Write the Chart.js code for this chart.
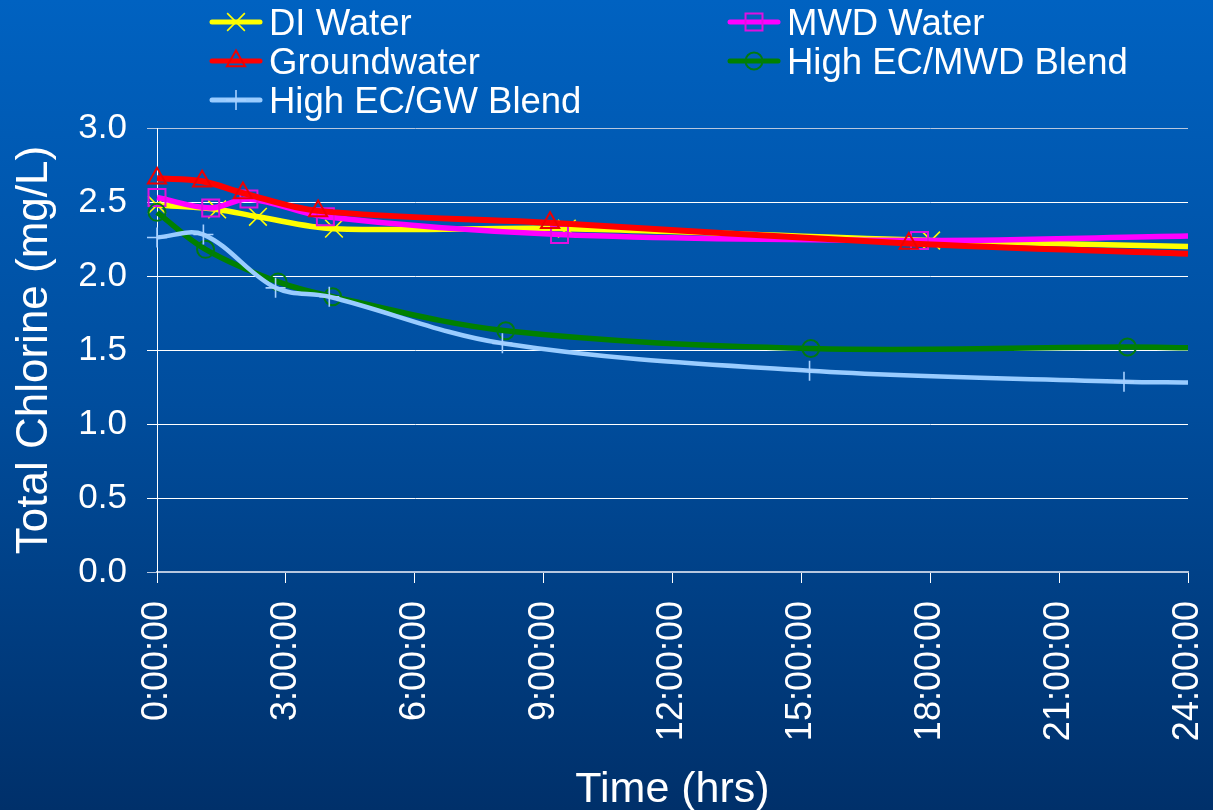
<!DOCTYPE html>
<html>
<head>
<meta charset="utf-8">
<title>Total Chlorine vs Time</title>
<style>
  html, body { margin: 0; padding: 0; background: #00468f; }
  #wrap { width: 1213px; height: 810px; position: relative; }
  canvas { display: block; }
</style>
<script src="https://cdn.jsdelivr.net/npm/chart.js@4.4.1/dist/chart.umd.min.js"></script>
</head>
<body>
<div id="wrap"><canvas id="chlorine" width="1213" height="810"></canvas></div>
<script>
const FONT = '"Liberation Sans", Arial, Helvetica, sans-serif';

// Series names (legend order: row by row, two columns)
const seriesNames = ['DI Water', 'MWD Water', 'Groundwater', 'High EC/MWD Blend', 'High EC/GW Blend'];

// Sampling times (hours) and total chlorine (mg/L) for each water
const diHours     = [0, 1.40, 2.35, 4.12, 9.54, 18.02, 24];
const diValues    = [2.48, 2.45, 2.40, 2.32, 2.32, 2.24, 2.20];

const mwdHours    = [0, 1.25, 2.14, 3.92, 9.37, 17.75, 24];
const mwdValues   = [2.53, 2.46, 2.52, 2.40, 2.28, 2.24, 2.27];

const gwHours     = [0, 1.05, 2.00, 3.75, 9.15, 17.50, 24];
const gwValues    = [2.66, 2.64, 2.56, 2.44, 2.36, 2.22, 2.15];

const ecMwdHours  = [0, 1.13, 2.82, 4.09, 8.12, 15.22, 22.59, 24];
const ecMwdValues = [2.43, 2.18, 1.96, 1.86, 1.63, 1.51, 1.52, 1.515];

const ecGwHours   = [0, 1.08, 2.76, 4.01, 8.04, 15.19, 22.51, 24];
const ecGwValues  = [2.26, 2.28, 1.92, 1.86, 1.545, 1.36, 1.286, 1.28];

// Axis ticks
const hourTicks = [0, 3, 6, 9, 12, 15, 18, 21, 24];
const chlorineTicks = [0, 0.5, 1, 1.5, 2, 2.5, 3];

const toPoints = (xs, ys) => xs.map((x, i) => ({ x: x, y: ys[i] }));

// The end-of-run point carries the curve to 24 h without a marker
const markerUntilEnd = r => c => (c.dataIndex === c.dataset.data.length - 1 ? 0 : r);

function series(label, xs, ys, lineColor, lineWidth, style, markerColor, markerSize, markerWidth, order) {
  return {
    label: label,
    data: toPoints(xs, ys),
    borderColor: lineColor,
    borderWidth: lineWidth,
    backgroundColor: 'rgba(0,0,0,0)',
    pointStyle: style,
    pointBorderColor: markerColor,
    pointBackgroundColor: 'rgba(0,0,0,0)',
    pointBorderWidth: markerWidth,
    pointRadius: markerUntilEnd(markerSize),
    pointHoverRadius: markerUntilEnd(markerSize),
    markerSize: markerSize,
    tension: 0.35,
    fill: false,
    clip: false,
    order: order
  };
}

const datasets = [
  series(seriesNames[0], diHours, diValues, '#ffff00', 5.5, 'crossRot', '#ffff00', 12.5, 1.6, 5),
  series(seriesNames[1], mwdHours, mwdValues, '#ff00ff', 5.5, 'rect', '#e010e0', 12, 2, 4),
  series(seriesNames[2], gwHours, gwValues, '#ff0000', 6, 'triangle', '#ee0000', 10.5, 2, 3),
  series(seriesNames[3], ecMwdHours, ecMwdValues, '#008000', 5.5, 'circle', '#007a10', 8.5, 2, 2),
  series(seriesNames[4], ecGwHours, ecGwValues, '#99ccff', 4.5, 'cross', '#a6d0ff', 10, 1.6, 1)
];

// Blue slide backdrop, lighter at the top
const backdrop = {
  id: 'backdrop',
  beforeDraw(chart) {
    const { ctx, width, height } = chart;
    const g = ctx.createLinearGradient(0, 0, 0, height);
    g.addColorStop(0, '#0062c1');
    g.addColorStop(0.5, '#004d9d');
    g.addColorStop(1, '#00306a');
    ctx.save();
    ctx.fillStyle = g;
    ctx.fillRect(0, 0, width, height);
    ctx.restore();
  }
};

// Two-column legend above the plot
const legendColX = [212, 730];
const legendRowY = [22, 61, 100];
const gridLegend = {
  id: 'gridLegend',
  afterDraw(chart) {
    const ctx = chart.ctx;
    chart.data.datasets.forEach((ds, i) => {
      const x0 = legendColX[i % 2];
      const y = legendRowY[Math.floor(i / 2)];
      ctx.save();
      ctx.strokeStyle = ds.borderColor;
      ctx.lineWidth = 5;
      ctx.lineCap = 'round';
      ctx.beginPath();
      ctx.moveTo(x0, y);
      ctx.lineTo(x0 + 48, y);
      ctx.stroke();
      ctx.strokeStyle = ds.pointBorderColor;
      ctx.fillStyle = 'rgba(0,0,0,0)';
      ctx.lineWidth = ds.pointBorderWidth;
      ctx.lineCap = 'butt';
      Chart.helpers.drawPoint(ctx, {
        pointStyle: ds.pointStyle,
        rotation: 0,
        radius: ds.markerSize,
        borderWidth: ds.pointBorderWidth
      }, x0 + 24, y);
      ctx.fillStyle = '#ffffff';
      ctx.font = '36.5px ' + FONT;
      ctx.textAlign = 'left';
      ctx.textBaseline = 'alphabetic';
      ctx.fillText(ds.label, x0 + 57, y + 13);
      ctx.restore();
    });
  }
};

new Chart(document.getElementById('chlorine'), {
  type: 'line',
  data: { datasets: datasets },
  plugins: [backdrop, gridLegend],
  options: {
    responsive: false,
    animation: false,
    events: [],
    layout: { padding: { top: 128, right: 25, bottom: 0, left: 0 } },
    plugins: {
      legend: { display: false },
      tooltip: { enabled: false }
    },
    scales: {
      x: {
        type: 'linear',
        min: hourTicks[0],
        max: hourTicks[hourTicks.length - 1],
        afterFit(scale) {
          scale.height = 238;
          scale.paddingLeft = 0;
          scale.paddingRight = 0;
        },
        afterBuildTicks(scale) { scale.ticks = hourTicks.map(v => ({ value: v })); },
        border: { display: true, color: '#b7c7df', width: 2 },
        grid: { drawOnChartArea: false, drawTicks: true, tickLength: 11, color: '#ffffff', lineWidth: 1 },
        ticks: {
          autoSkip: false,
          minRotation: 90,
          maxRotation: 90,
          padding: 18,
          color: '#ffffff',
          font: { family: FONT, size: 36 },
          callback: v => v + ':00:00'
        },
        title: {
          display: true,
          text: 'Time (hrs)',
          color: '#ffffff',
          font: { family: FONT, size: 43 },
          padding: { top: 0, bottom: -6 }
        }
      },
      y: {
        min: chlorineTicks[0],
        max: chlorineTicks[chlorineTicks.length - 1],
        afterFit(scale) {
          scale.width = 157;
          scale.paddingTop = 0;
          scale.paddingBottom = 0;
        },
        afterBuildTicks(scale) { scale.ticks = chlorineTicks.map(v => ({ value: v })); },
        border: { display: true, color: '#ffffff', width: 1 },
        grid: {
          drawTicks: true,
          tickLength: 10,
          lineWidth: 1,
          color: c => (c.tick && (c.tick.value === 0 || c.tick.value === 3)) ? '#b7c7df' : '#ffffff'
        },
        ticks: {
          padding: 20,
          color: '#ffffff',
          font: { family: FONT, size: 35 },
          callback: v => Number(v).toFixed(1)
        },
        title: {
          display: true,
          text: 'Total Chlorine (mg/L)',
          color: '#ffffff',
          font: { family: FONT, size: 44 },
          padding: { top: 8, bottom: 0 }
        }
      }
    }
  }
});
</script>
</body>
</html>
